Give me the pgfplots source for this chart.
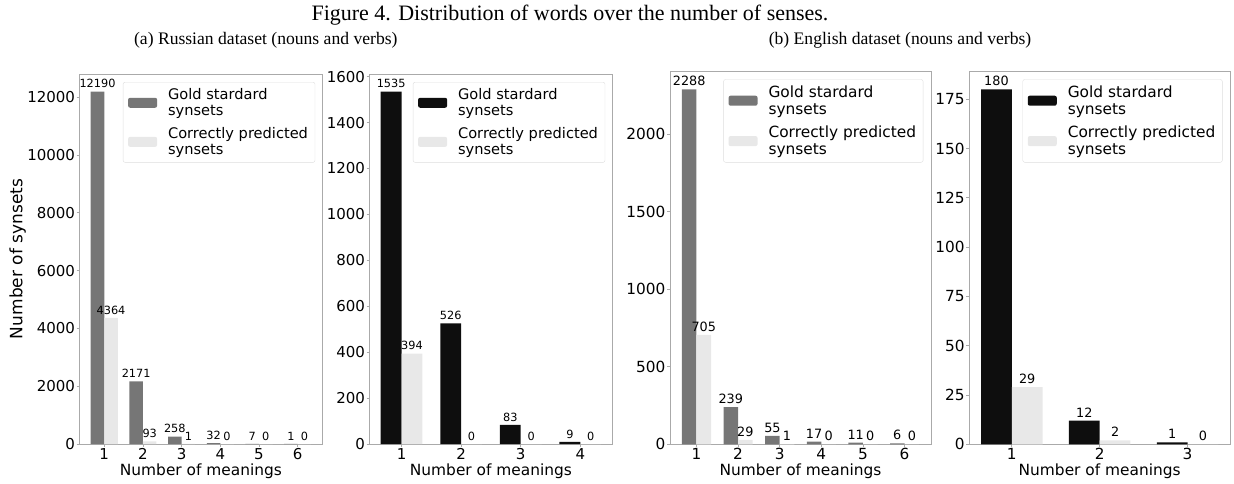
\documentclass[border=0pt]{standalone}
\usepackage{fontspec}
\setmainfont{DejaVu Sans}
\newfontfamily\seriffont{Liberation Serif}
\usepackage{pgfplots}
\pgfplotsset{compat=1.18}
\definecolor{goldgray}{HTML}{767676}
\definecolor{goldblack}{HTML}{0E0E0E}
\definecolor{corr}{HTML}{E8E8E8}
\definecolor{spine}{HTML}{AAAAAA}
\definecolor{legframe}{HTML}{DDDDDD}

\pgfplotsset{
  base/.style={
    scale only axis,
    anchor=south west,
    ybar,
    bar width=0.35,
    axis line style={spine, line width=0.8pt},
    tick style={spine, line width=0.8pt},
    tick align=outside,
    major tick length=3pt,
    xtick pos=bottom, ytick pos=left,
    scaled y ticks=false,
    /pgf/number format/assume math mode=true,
    /pgf/number format/1000 sep={},
    ymin=0,
    xticklabel style={inner sep=1pt},
    yticklabel style={inner sep=1.5pt},
    nodes near coords,
    legend cell align=left,
    every axis x label/.style={at={(axis description cs:0.5,0)}, anchor=base, yshift=-31pt},
    xlabel={Number of meanings},
    clip=false,
  },
  fsA/.style={
    tick label style={font=\fontsize{15}{18}\selectfont, text=black},
    nodes near coords style={font=\fontsize{11.3}{13}\selectfont, text=black},
    label style={font=\fontsize{15.4}{18}\selectfont},
    legend style={at={(1,1)}, anchor=north east, xshift=-7pt, yshift=-8pt,
      draw=legframe, rounded corners=2pt, fill=white,
      font=\fontsize{14.6}{16.5}\selectfont, inner xsep=5pt, inner ysep=4pt,
      row sep=6pt, cells={align=left, anchor=west},
      /tikz/every odd column/.append style={column sep=9pt}},
  },
  fsB/.style={
    tick label style={font=\fontsize{15.3}{18}\selectfont, text=black},
    nodes near coords style={font=\fontsize{12.8}{15}\selectfont, text=black},
    label style={font=\fontsize{15.4}{18}\selectfont},
    legend style={at={(1,1)}, anchor=north east, xshift=-7.7pt, yshift=-7.6pt,
      draw=legframe, rounded corners=2pt, fill=white,
      font=\fontsize{15.4}{17.2}\selectfont, inner xsep=5pt, inner ysep=4pt,
      row sep=6pt, cells={align=left, anchor=west},
      /tikz/every odd column/.append style={column sep=9pt}},
  },
  legG/.style={legend image code/.code={\fill[goldgray] (0pt,-5pt) rectangle (29pt,5pt);}},
  legB/.style={legend image code/.code={\fill[goldblack] (0pt,-5pt) rectangle (29pt,5pt);}},
  legC/.style={legend image code/.code={\fill[corr] (0pt,-5pt) rectangle (29pt,5pt);}},
}

\pgfplotstableread{
x gold corr
1 12190 4364
2 2171 93
3 258 1
4 32 0
5 7 0
6 1 0
}\ruTotal
\pgfplotstableread{
x gold corr
1 1535 394
2 526 0
3 83 0
4 9 0
}\ruSub
\pgfplotstableread{
x gold corr
1 2288 705
2 239 29
3 55 1
4 17 0
5 11 0
6 6 0
}\enTotal
\pgfplotstableread{
x gold corr
1 180 29
2 12 2
3 1 0
}\enSub

\begin{document}
\begin{tikzpicture}
\path[use as bounding box] (0pt,0pt) rectangle (1234pt,-483pt);
\node[anchor=base, font=\seriffont\fontsize{22}{24}\selectfont] at (570pt,-20.5pt) {Figure 4. Distribution of words over the number of senses.};
\node[anchor=base, font=\seriffont\fontsize{17.6}{20}\selectfont] at (265.8pt,-44pt) {(a) Russian dataset (nouns and verbs)};
\node[anchor=base, font=\seriffont\fontsize{17.6}{20}\selectfont] at (900pt,-44pt) {(b) English dataset (nouns and verbs)};

% Panel 1
\begin{axis}[base, fsA, at={(79.7pt,-444pt)}, width=242.5pt, height=370pt,
  xmin=0.365, xmax=6.635, ymax=12799.5,
  xtick={1,2,3,4,5,6}, ytick={0,2000,4000,6000,8000,10000,12000},
  ylabel={Number of synsets},
  every axis y label/.style={at={(axis description cs:-0.256,0.5)}, rotate=90, anchor=center, font=\fontsize{17}{20}\selectfont}]
\addplot[fill=goldgray, draw=none, bar shift=-0.175, legG] table[x=x,y=gold] {\ruTotal};
\addlegendentry{Gold stardard\\synsets}
\addplot[fill=corr, draw=none, bar shift=0.175, legC] table[x=x,y=corr] {\ruTotal};
\addlegendentry{Correctly predicted\\synsets}
\end{axis}

% Panel 2
\begin{axis}[base, fsA, at={(369.7pt,-444pt)}, width=242.5pt, height=370pt,
  xmin=0.465, xmax=4.535, ymax=1611.75,
  xtick={1,2,3,4}, ytick={0,200,400,600,800,1000,1200,1400,1600}]
\addplot[fill=goldblack, draw=none, bar shift=-0.175, legB] table[x=x,y=gold] {\ruSub};
\addlegendentry{Gold stardard\\synsets}
\addplot[fill=corr, draw=none, bar shift=0.175, legC] table[x=x,y=corr] {\ruSub};
\addlegendentry{Correctly predicted\\synsets}
\end{axis}

% Panel 3
\begin{axis}[base, fsB, at={(670pt,-444.3pt)}, width=261pt, height=372.6pt,
  xmin=0.365, xmax=6.635, ymax=2402.4,
  xtick={1,2,3,4,5,6}, ytick={0,500,1000,1500,2000}]
\addplot[fill=goldgray, draw=none, bar shift=-0.175, legG] table[x=x,y=gold] {\enTotal};
\addlegendentry{Gold stardard\\synsets}
\addplot[fill=corr, draw=none, bar shift=0.175, legC] table[x=x,y=corr] {\enTotal};
\addlegendentry{Correctly predicted\\synsets}
\end{axis}

% Panel 4
\begin{axis}[base, fsB, at={(969.2pt,-444.3pt)}, width=261pt, height=372.6pt,
  xmin=0.515, xmax=3.485, ymax=189,
  xtick={1,2,3}, ytick={0,25,50,75,100,125,150,175}]
\addplot[fill=goldblack, draw=none, bar shift=-0.175, legB] table[x=x,y=gold] {\enSub};
\addlegendentry{Gold stardard\\synsets}
\addplot[fill=corr, draw=none, bar shift=0.175, legC] table[x=x,y=corr] {\enSub};
\addlegendentry{Correctly predicted\\synsets}
\end{axis}
\end{tikzpicture}
\end{document}
